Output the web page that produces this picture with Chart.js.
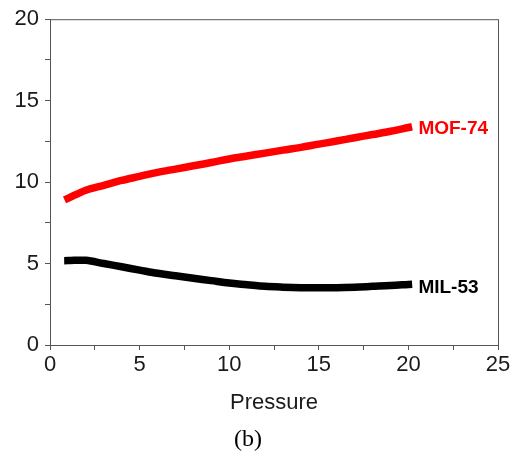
<!DOCTYPE html>
<html>
<head>
    <title>Pressure chart (b)</title>
    <script src="https://cdn.jsdelivr.net/npm/chart.js"></script>
    <style>
        html, body { margin: 0; padding: 0; background: #fff; }
        #wrap { width: 524px; height: 456px; }
    </style>
</head>
<body>
    <div id="wrap"><canvas id="pressureChart"></canvas></div>
    <script>
        var pressure = [1, 2, 3, 4, 5, 6, 7, 8, 9, 10, 11, 12, 13, 14, 15, 16, 17, 18, 19, 20];
        var mof74 = [9.0, 9.5, 9.8, 10.1, 10.35, 10.6, 10.8, 11.0, 11.2, 11.42, 11.6, 11.78, 11.96, 12.13, 12.33, 12.52, 12.72, 12.92, 13.12, 13.35];
        var mil53 = [5.18, 5.2, 5.0, 4.8, 4.6, 4.4, 4.25, 4.1, 3.95, 3.8, 3.7, 3.6, 3.55, 3.52, 3.52, 3.52, 3.55, 3.6, 3.65, 3.72];
        var seriesNames = ['MOF-74', 'MIL-53'];
        var xTicks = [0, 5, 10, 15, 20, 25];
        var yTicks = [0, 5, 10, 15, 20];

        function points(ys) {
            var out = [];
            for (var i = 0; i < pressure.length; i++) {
                out.push({x: pressure[i], y: ys[i]});
            }
            return out;
        }

        // box around plot, end labels and the "(b)" caption
        var extras = {
            id: 'extras',
            afterDraw: function (chart) {
                var c = chart.ctx;
                var a = chart.chartArea;
                c.save();
                c.strokeStyle = '#555';
                c.lineWidth = 1;
                c.strokeRect(a.left + 0.5, a.top + 0.5, a.right - a.left, a.bottom - a.top);

                c.font = 'bold 19px "Liberation Sans", Arial, sans-serif';
                c.textBaseline = 'middle';
                c.textAlign = 'left';
                chart.data.datasets.forEach(function (ds, i) {
                    var meta = chart.getDatasetMeta(i);
                    var last = meta.data[meta.data.length - 1];
                    c.fillStyle = ds.borderColor;
                    c.fillText(ds.label, last.x + 10, last.y + (i === 0 ? 1 : 3));
                });

                c.fillStyle = '#000';
                c.textAlign = 'center';
                c.font = '24px "Liberation Serif", "Times New Roman", serif';
                c.fillText('(b)', (a.left + a.right) / 2 - 26, 440);
                c.restore();
            }
        };

        var ctx = document.getElementById('pressureChart');
        var chart = new Chart(ctx, {
            type: 'line',
            data: {
                datasets: [{
                    label: seriesNames[0],
                    data: points(mof74),
                    borderColor: '#ff0000',
                    backgroundColor: '#ff0000',
                    borderWidth: 7.5,
                    borderCapStyle: 'square',
                    pointRadius: 0,
                    tension: 0.35
                }, {
                    label: seriesNames[1],
                    data: points(mil53),
                    borderColor: '#000000',
                    backgroundColor: '#000000',
                    borderWidth: 7.5,
                    borderCapStyle: 'square',
                    pointRadius: 0,
                    tension: 0.35
                }]
            },
            options: {
                responsive: true,
                maintainAspectRatio: false,
                animation: false,
                layout: {
                    padding: {left: 0, right: 26, top: 17, bottom: 40}
                },
                scales: {
                    x: {
                        type: 'linear',
                        min: 0,
                        max: 25,
                        afterFit: function (s) { s.height = 71; },
                        afterBuildTicks: function (s) {
                            var t = [];
                            for (var v = 0; v <= 25; v += 2.5) t.push({value: v});
                            s.ticks = t;
                        },
                        border: {display: true, color: '#555', width: 1},
                        grid: {drawOnChartArea: false, drawTicks: true, tickLength: 5, color: '#555'},
                        ticks: {
                            color: '#1a1a1a',
                            padding: 2,
                            maxRotation: 0,
                            autoSkip: false,
                            font: {family: '"Liberation Sans", Arial, sans-serif', size: 22},
                            callback: function (v) { return xTicks.indexOf(v) >= 0 ? String(v) : ''; }
                        },
                        title: {
                            display: true,
                            text: 'Pressure',
                            color: '#1a1a1a',
                            padding: {top: 0, bottom: 0},
                            font: {family: '"Liberation Sans", Arial, sans-serif', size: 22}
                        }
                    },
                    y: {
                        type: 'linear',
                        min: 0,
                        max: 20,
                        afterFit: function (s) { s.width = 50; },
                        afterBuildTicks: function (s) {
                            var t = [];
                            for (var v = 0; v <= 20; v += 2.5) t.push({value: v});
                            s.ticks = t;
                        },
                        border: {display: true, color: '#555', width: 1},
                        grid: {drawOnChartArea: false, drawTicks: true, tickLength: 5, color: '#555'},
                        ticks: {
                            color: '#1a1a1a',
                            padding: 6,
                            autoSkip: false,
                            font: {family: '"Liberation Sans", Arial, sans-serif', size: 22},
                            callback: function (v) { return yTicks.indexOf(v) >= 0 ? String(v) : ''; }
                        }
                    }
                },
                plugins: {
                    legend: {display: false},
                    tooltip: {enabled: false}
                }
            },
            plugins: [extras]
        });
    </script>
</body>
</html>
